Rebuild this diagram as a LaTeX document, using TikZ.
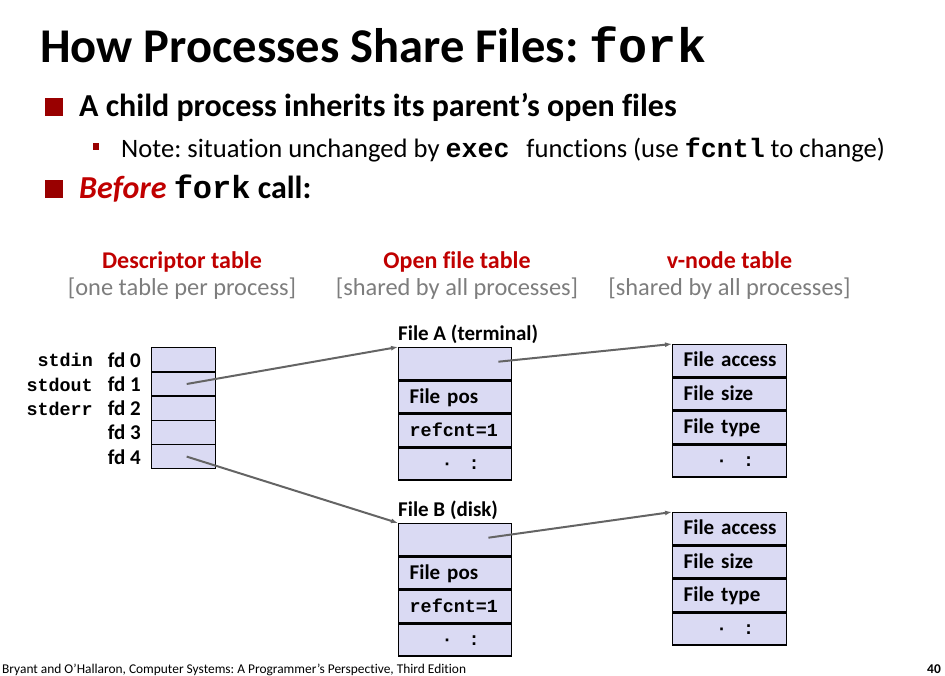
\documentclass[tikz,border=0pt]{standalone}
\usepackage{fontspec}
\setmainfont{Carlito}[Ligatures=NoCommon]
\setmonofont{Liberation Mono}
\usetikzlibrary{arrows.meta}

\definecolor{bulletred}{RGB}{153,0,0}
\definecolor{headred}{RGB}{192,0,0}
\definecolor{subgray}{RGB}{125,125,125}
\definecolor{cellfill}{RGB}{218,218,243}
\definecolor{ptrgray}{RGB}{100,100,100}

\newcommand{\fsz}[1]{\fontsize{#1}{#1}\selectfont}

\tikzset{
  txt/.style={inner sep=0pt, anchor=base west},
  bigsq/.style={fill=bulletred, minimum size=18pt, inner sep=0pt},
  smallsq/.style={fill=bulletred, minimum width=6pt, minimum height=7pt, inner sep=0pt},
  head/.style={inner sep=0pt, anchor=base, font=\fsz{24}\bfseries, text=headred},
  subhead/.style={inner sep=0pt, anchor=base, font=\fsz{24.4}, text=subgray},
  fdcell/.style={draw=black, line width=1.4pt, fill=cellfill, anchor=north west,
    minimum width=64pt, minimum height=24.2pt, inner sep=0pt},
  fdlabel/.style={inner sep=0pt, anchor=base east, font=\fsz{21}\bfseries},
  stdlabel/.style={inner sep=0pt, anchor=base east, font=\fsz{18.4}\ttfamily\bfseries},
  cell/.style={draw=black, line width=1.4pt, fill=cellfill, anchor=north west,
    text width=113pt, inner xsep=0pt, inner ysep=0pt, align=left,
    minimum height=32pt, text height=14pt, text depth=2pt, font=\fsz{21}\bfseries,
    execute at begin node={\hspace*{11pt}}},
  vcell/.style={cell, text width=114pt},
  monocell/.style={font=\fsz{18.4}\ttfamily\bfseries},
  dotcell/.style={align=center, execute at begin node={}},
  filelabel/.style={inner sep=0pt, anchor=base west, font=\fsz{21}\bfseries},
  ptr/.style={draw=ptrgray, line width=2pt, -{Latex[length=7pt,width=5pt]}}
}

\newcommand{\dotrow}{\fsz{18.4}\ttfamily\bfseries ·\hspace{16pt}:}

\begin{document}
\frenchspacing
\begin{tikzpicture}[x=1pt,y=-1pt]
\useasboundingbox (0,0) rectangle (945,676);

% title and bullet text
\node[txt] (title) at (40,63) {\fsz{48.5}\bfseries How Processes Share Files: \texttt{fork}};

\node[bigsq] (sq1) at (53.5,107) {};
\node[txt] (line1) at (79,117) {\fsz{32}\bfseries A child process inherits its parent’s open files};

\node[smallsq] (sq2) at (96,146.5) {};
\node[txt] (line2) at (121,158) {\fsz{26.6}Note: situation unchanged by \textbf{\texttt{exec}}\hspace{17pt}functions (use \textbf{\texttt{fcntl}} to change)};

\node[bigsq] (sq3) at (53.5,189) {};
\node[txt] (line3) at (79,199) {\fsz{32}\bfseries\textcolor{headred}{\itshape Before} \texttt{fork} call:};

% column headings
\node[head] (hdesc) at (182,269) {Descriptor table};
\node[subhead] (sdesc) at (182,296) {[one table per process]};
\node[head] (hopen) at (457,269) {Open file table};
\node[subhead] (sopen) at (457,296) {[shared by all processes]};
\node[head] (hvnode) at (729.5,269) {v-node table};
\node[subhead] (svnode) at (729.5,296) {[shared by all processes]};

% descriptor table
\foreach \i in {0,...,4} {
  \node[fdcell] (fd\i) at (151,{347+24.2*\i}) {};
  \node[fdlabel] (fdl\i) at ([xshift=-10pt,yshift=-7.5pt]fd\i.west) {fd \i};
}
\node[stdlabel] (lin)  at ([xshift=-58pt,yshift=-7pt]fd0.west) {stdin};
\node[stdlabel] (lout) at ([xshift=-58pt,yshift=-7pt]fd1.west) {stdout};
\node[stdlabel] (lerr) at ([xshift=-58pt,yshift=-7pt]fd2.west) {stderr};

% open file table: file A
\node[cell] (fa0) at (398,347) {};
\node[cell] (fa1) at (fa0.south west) {File pos};
\node[cell, monocell] (fa2) at (fa1.south west) {refcnt=1};
\node[cell, dotcell] (fa3) at (fa2.south west) {\dotrow};
\node[filelabel] (fal) at ([yshift=7pt]fa0.north west) {File A (terminal)};

% open file table: file B
\node[cell] (fb0) at (398,523) {};
\node[cell] (fb1) at (fb0.south west) {File pos};
\node[cell, monocell] (fb2) at (fb1.south west) {refcnt=1};
\node[cell, dotcell] (fb3) at (fb2.south west) {\dotrow};
\node[filelabel] (fbl) at ([yshift=7pt]fb0.north west) {File B (disk)};

% v-node table
\node[vcell] (va0) at (672,344) {File access};
\node[vcell] (va1) at (va0.south west) {File size};
\node[vcell] (va2) at (va1.south west) {File type};
\node[vcell, dotcell] (va3) at (va2.south west) {\dotrow};

\node[vcell] (vb0) at (672,512) {File access};
\node[vcell] (vb1) at (vb0.south west) {File size};
\node[vcell] (vb2) at (vb1.south west) {File type};
\node[vcell, dotcell] (vb3) at (vb2.south west) {\dotrow};

% pointers
\draw[ptr] ([xshift=3pt]fd1.center) -- (fa0.north west);
\draw[ptr] ([xshift=3pt]fd4.center) -- (fb0.north west);
\draw[ptr] ([xshift=-14pt,yshift=2pt]fa0.east) -- (va0.north west);
\draw[ptr] ([xshift=-24pt,yshift=2pt]fb0.east) -- (vb0.north west);

% footer
\node[txt] (foot) at (2,673) {\fsz{13.4}Bryant and O’Hallaron, Computer Systems: A Programmer’s Perspective, Third Edition};
\node[inner sep=0pt, anchor=base east] (page) at (941,673) {\fsz{13.4}\bfseries 40};
\end{tikzpicture}
\end{document}
